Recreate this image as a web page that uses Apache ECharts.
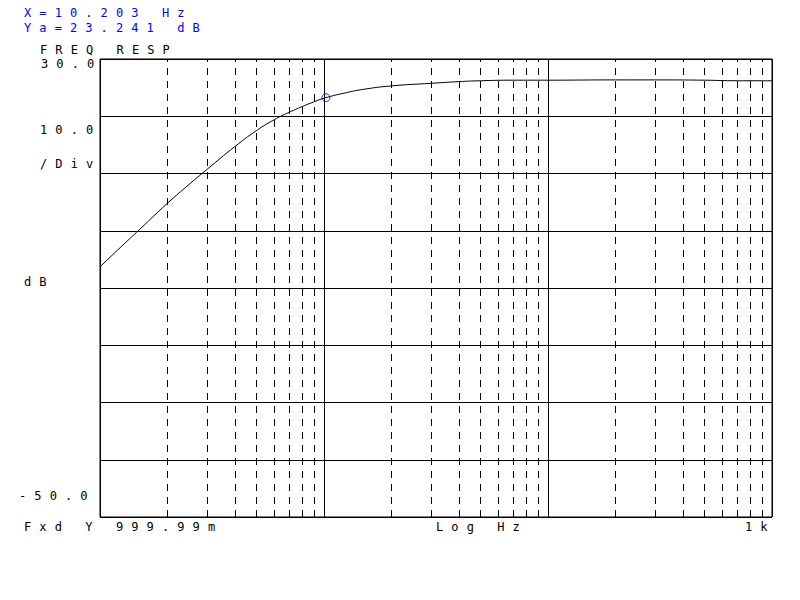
<!DOCTYPE html>
<html>
<head>
<meta charset="utf-8">
<script src="https://cdn.jsdelivr.net/npm/echarts@6/dist/echarts.min.js"></script>
<style>
  html, body { margin: 0; padding: 0; background: #fff; }
  #c { width: 800px; height: 600px; }
  #c text { letter-spacing: 8.1px !important; }
</style>
</head>
<body>
<div id="c"></div>
<script>
// ---- data ----
const freqs = [1, 1.25, 1.5, 2, 2.5, 3, 4, 5, 6, 7, 8, 9, 10, 12.5, 15, 20, 30, 40, 50, 70, 100, 200, 300, 500, 700, 1000];
const respDb = [-6.3, -2.7, 0.2, 4.8, 8.1, 10.7, 14.7, 17.5, 19.4, 20.7, 21.7, 22.5, 23.15, 24.1, 24.7, 25.3, 25.75, 26.05, 26.2, 26.3, 26.3, 26.35, 26.35, 26.3, 26.2, 26.2];
const minorFreqs = [2, 3, 4, 5, 6, 7, 8, 9, 20, 30, 40, 50, 60, 70, 80, 90, 200, 300, 400, 500, 600, 700, 800, 900];
const markerX = 10.203;
const markerY = 23.241;
const yMin = -50, yMax = 30, yStep = 10;
const xMin = 1, xMax = 1000;
const yTickLabels = ['30.0', '-50.0'];
const scaleLabels = ['10.0', '/Div'];
const unitLabel = 'dB';
const titleLabel = 'FREQ RESP';
const xLabels = ['Fxd Y 999.99m', 'Log Hz', '1k'];
const headerLabels = ['X=' + markerX.toFixed(3) + ' Hz', 'Ya=' + markerY.toFixed(3) + ' dB'];

const chart = echarts.init(document.getElementById('c'), null, { renderer: 'svg' });
const FONT = '12px "DejaVu Sans Mono"';
const BLUE = '#0000ff';

function txt(text, x, yTop, color) {
  return {
    type: 'text', silent: true,
    style: { text: text, x: x, y: yTop, font: FONT, fill: color || '#000', align: 'left', verticalAlign: 'top' }
  };
}

const curve = freqs.map((f, i) => [f, respDb[i]]);

chart.setOption({
  animation: false,
  backgroundColor: '#fff',
  grid: { left: 100, top: 59, width: 672, height: 458, show: true, borderColor: '#000', borderWidth: 1, backgroundColor: 'transparent' },
  xAxis: {
    type: 'log', logBase: 10, min: xMin, max: xMax,
    axisLine: { show: false }, axisTick: { show: false }, axisLabel: { show: false },
    splitLine: { show: true, lineStyle: { color: '#000', width: 1, type: 'solid' } }
  },
  yAxis: {
    type: 'value', min: yMin, max: yMax, interval: yStep,
    axisLine: { show: false }, axisTick: { show: false }, axisLabel: { show: false },
    splitLine: { show: true, lineStyle: { color: '#000', width: 1, type: 'solid' } }
  },
  series: [
    {
      type: 'line', data: curve, showSymbol: false, smooth: 0.5,
      lineStyle: { color: '#000', width: 1 }, silent: true,
      markLine: {
        silent: true, symbol: ['none', 'none'], label: { show: false },
        lineStyle: { color: '#000', width: 1, type: [7, 6] },
        emphasis: { disabled: true },
        data: minorFreqs.map(v => ({ xAxis: v }))
      }
    },
    {
      type: 'scatter', data: [[markerX, markerY]], symbol: 'circle', symbolSize: 8, silent: true,
      itemStyle: { color: 'rgba(0,0,0,0)', borderColor: BLUE, borderWidth: 1 }
    }
  ],
  graphic: [
    txt(headerLabels[0], 24, 7.3, BLUE),
    txt(headerLabels[1], 24, 21.6, BLUE),
    txt(titleLabel, 40, 43.6),
    txt(yTickLabels[0], 41, 57.9),
    txt(scaleLabels[0], 40, 123.8),
    txt(scaleLabels[1], 40, 158.3),
    txt(unitLabel, 24, 275.8),
    txt(yTickLabels[1], 19, 489.8),
    txt(xLabels[0], 24, 521.4),
    txt(xLabels[1], 436, 521.4),
    txt(xLabels[2], 745, 521.4)
  ]
});
</script>
</body>
</html>
